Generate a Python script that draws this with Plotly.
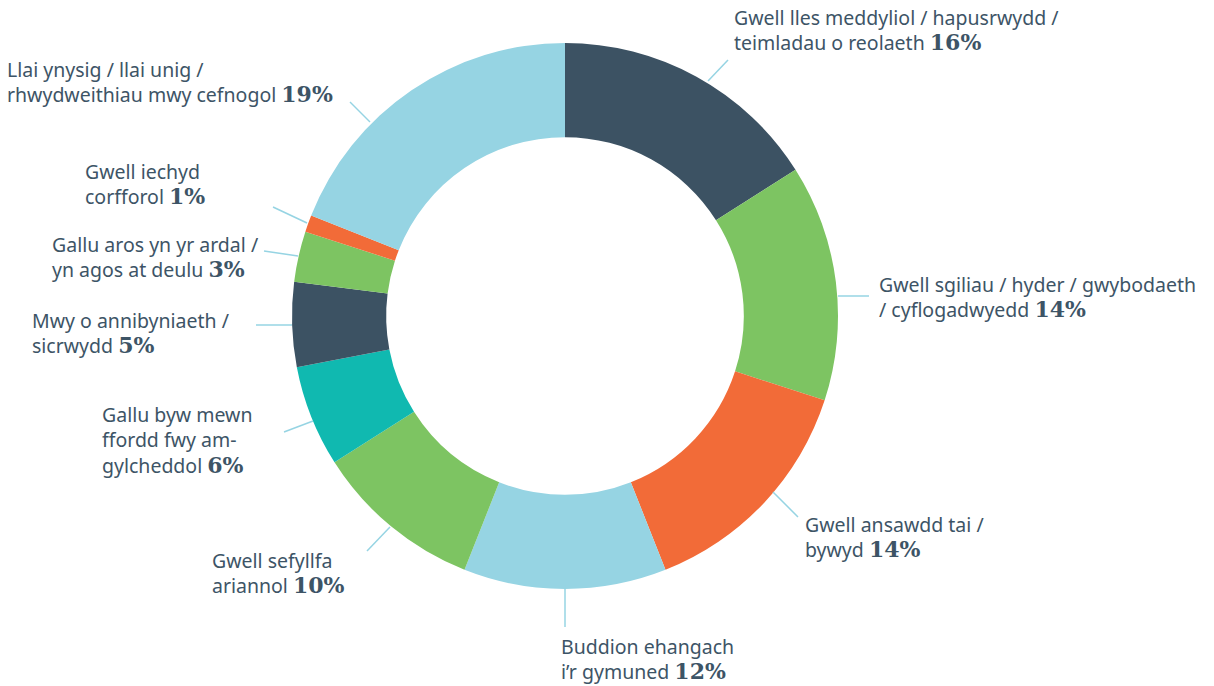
import plotly.graph_objects as go

W, H = 1214, 686

# ---- data ----
categories = [
    "Gwell lles meddyliol / hapusrwydd /<br>teimladau o reolaeth",
    "Gwell sgiliau / hyder / gwybodaeth<br>/ cyflogadwyedd",
    "Gwell ansawdd tai /<br>bywyd",
    "Buddion ehangach<br>i\u2019r gymuned",
    "Gwell sefyllfa<br>ariannol",
    "Gallu byw mewn<br>ffordd fwy am-<br>gylcheddol",
    "Mwy o annibyniaeth /<br>sicrwydd",
    "Gallu aros yn yr ardal /<br>yn agos at deulu",
    "Gwell iechyd<br>corfforol",
    "Llai ynysig / llai unig /<br>rhwydweithiau mwy cefnogol",
]
values = [16, 14, 14, 12, 10, 6, 5, 3, 1, 19]
colors = ["#3C5263", "#7DC462", "#F26B38", "#96D4E3", "#7DC462",
          "#10B9B0", "#3C5263", "#7DC462", "#F26B38", "#96D4E3"]

# ---- layout of labels (pixels): text left x, text centre y ----
label_pos = [(732, 30), (877, 297), (803, 537), (559, 659), (210, 573),
             (100, 440), (30, 333), (50, 257), (83, 184), (5, 82)]
# leader lines (pixels): start, end
leaders = [((708, 81), (728, 60)), ((838, 296), (869, 296)),
           ((773, 492), (798, 517)), ((565, 589), (565, 627)),
           ((390, 527), (367, 551)), ((313, 421), (284, 432)),
           ((292, 325), (256, 325)), ((298, 256), (264, 251)),
           ((307, 223), (273, 207)), ((370, 122), (350, 102))]

cx, cy, R = 565, 316, 273
TEXT = "#3D5466"

fig = go.Figure(go.Pie(
    labels=[c.replace("<br>", " ") for c in categories],
    values=values,
    marker=dict(colors=colors, line=dict(width=0)),
    hole=0.655,
    sort=False,
    direction="clockwise",
    rotation=0,
    textinfo="none",
    hoverinfo="label+percent",
    domain=dict(x=[(cx - R) / W, (cx + R) / W],
                y=[(H - cy - R) / H, (H - cy + R) / H]),
))

annotations = []
for cat, v, (lx, ly) in zip(categories, values, label_pos):
    txt = (f"{cat} <b><span style='font-family:DejaVu Serif;font-size:22px'>"
           f"{v}%</span></b>")
    annotations.append(dict(
        x=lx / W, y=1 - ly / H, xref="paper", yref="paper",
        xanchor="left", yanchor="middle", align="left",
        text=txt, showarrow=False,
        font=dict(family="Noto Sans", size=19.5, color=TEXT),
    ))

shapes = []
for (x0, y0), (x1, y1) in leaders:
    shapes.append(dict(
        type="line", xref="paper", yref="paper",
        x0=x0 / W, y0=1 - y0 / H, x1=x1 / W, y1=1 - y1 / H,
        line=dict(color="#96D4E3", width=1.5),
    ))

fig.update_layout(
    width=W, height=H,
    margin=dict(l=0, r=0, t=0, b=0),
    paper_bgcolor="white", plot_bgcolor="white",
    showlegend=False,
    annotations=annotations,
    shapes=shapes,
)

fig.write_html("out.html",
               config={"displayModeBar": False},
               post_script="document.body.style.margin='0';"
                           "document.body.style.padding='0';")
